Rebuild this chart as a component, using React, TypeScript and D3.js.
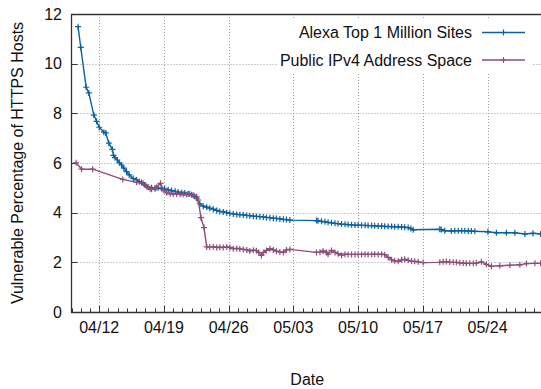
import React from "react";
import * as d3 from "d3";

// Series metadata
const seriesNames = ["Alexa Top 1 Million Sites", "Public IPv4 Address Space"];
const seriesColors = ["#0a60a0", "#8f4d7c"];

// Axis labels
const yTicks = [0, 2, 4, 6, 8, 10, 12];
const xTickLabels = ["04/12", "04/19", "04/26", "05/03", "05/10", "05/17", "05/24"];
const xLabel = "Date";
const yLabel = "Vulnerable Percentage of HTTPS Hosts";

// Scan times ("MM-DD HH", UTC, 2014) and vulnerable percentage
const alexa: [string, number][] = [
  ["04-09 17", 11.49], ["04-10 00", 10.66], ["04-10 14", 9.05], ["04-10 21", 8.82],
  ["04-11 10", 7.93], ["04-11 17", 7.68], ["04-12 00", 7.44], ["04-12 12", 7.24],
  ["04-12 17", 7.21], ["04-13 01", 6.8], ["04-13 10", 6.55], ["04-13 13", 6.31],
  ["04-13 17", 6.22], ["04-13 23", 6.12], ["04-14 04", 6.01], ["04-14 10", 5.92],
  ["04-14 16", 5.79], ["04-14 23", 5.65], ["04-15 06", 5.52], ["04-15 16", 5.38],
  ["04-16 01", 5.32], ["04-16 08", 5.25], ["04-16 14", 5.21], ["04-16 23", 5.11],
  ["04-17 07", 5.02], ["04-17 16", 5.0], ["04-18 01", 4.98], ["04-18 09", 5.0],
  ["04-18 18", 4.97], ["04-19 02", 4.96], ["04-19 11", 4.92], ["04-19 20", 4.89],
  ["04-20 05", 4.86], ["04-20 13", 4.83], ["04-20 22", 4.8], ["04-21 06", 4.79],
  ["04-21 15", 4.76], ["04-22 00", 4.72], ["04-22 08", 4.66], ["04-22 13", 4.58],
  ["04-22 21", 4.36], ["04-23 06", 4.26], ["04-23 15", 4.22], ["04-23 23", 4.18],
  ["04-24 08", 4.14], ["04-24 17", 4.09], ["04-25 01", 4.05], ["04-25 10", 4.03],
  ["04-25 19", 4.0], ["04-26 03", 3.97], ["04-26 12", 3.95], ["04-26 21", 3.93],
  ["04-27 05", 3.92], ["04-27 14", 3.91], ["04-27 23", 3.89], ["04-28 07", 3.88],
  ["04-28 16", 3.86], ["04-29 00", 3.85], ["04-29 09", 3.84], ["04-29 18", 3.83],
  ["04-30 02", 3.81], ["04-30 11", 3.8], ["04-30 20", 3.78], ["05-01 04", 3.77],
  ["05-01 13", 3.75], ["05-01 22", 3.73], ["05-02 06", 3.72], ["05-02 15", 3.7],
  ["05-05 12", 3.68], ["05-05 16", 3.67], ["05-06 01", 3.65], ["05-06 10", 3.63],
  ["05-06 18", 3.61], ["05-07 03", 3.59], ["05-07 12", 3.57], ["05-07 20", 3.56],
  ["05-08 05", 3.54], ["05-08 14", 3.53], ["05-08 22", 3.52], ["05-09 07", 3.51],
  ["05-09 16", 3.5], ["05-10 00", 3.5], ["05-10 09", 3.49], ["05-10 18", 3.49],
  ["05-11 02", 3.48], ["05-11 11", 3.48], ["05-11 19", 3.47], ["05-12 04", 3.46],
  ["05-12 13", 3.46], ["05-12 21", 3.45], ["05-13 06", 3.44], ["05-13 15", 3.44],
  ["05-13 23", 3.43], ["05-14 08", 3.43], ["05-14 17", 3.42], ["05-15 01", 3.41],
  ["05-15 10", 3.4], ["05-15 17", 3.36], ["05-15 23", 3.31],
  ["05-18 20", 3.33], ["05-19 00", 3.32], ["05-19 09", 3.27], ["05-20 02", 3.26],
  ["05-20 11", 3.27], ["05-20 20", 3.27], ["05-21 05", 3.27], ["05-21 13", 3.27],
  ["05-21 22", 3.26], ["05-22 06", 3.26], ["05-22 15", 3.25], ["05-24 01", 3.23],
  ["05-24 23", 3.19], ["05-26 01", 3.19], ["05-26 23", 3.19], ["05-28 01", 3.14],
  ["05-28 22", 3.17], ["05-29 18", 3.14],
];

const ipv4: [string, number][] = [
  ["04-09 12", 6.01], ["04-10 02", 5.75], ["04-11 07", 5.75], ["04-14 13", 5.34],
  ["04-16 01", 5.22], ["04-16 18", 5.18], ["04-17 03", 5.05], ["04-17 12", 4.96],
  ["04-17 16", 4.94], ["04-18 01", 4.96], ["04-18 05", 5.02], ["04-18 15", 5.18],
  ["04-18 22", 4.92], ["04-19 07", 4.8], ["04-19 16", 4.76], ["04-20 00", 4.75],
  ["04-20 09", 4.75], ["04-20 18", 4.74], ["04-21 02", 4.74], ["04-21 11", 4.73],
  ["04-21 19", 4.75], ["04-22 04", 4.7], ["04-22 13", 4.64], ["04-22 17", 4.51],
  ["04-23 00", 3.8], ["04-23 08", 3.4], ["04-23 15", 2.62], ["04-23 23", 2.62],
  ["04-24 08", 2.63], ["04-24 17", 2.6], ["04-25 01", 2.61], ["04-25 10", 2.6],
  ["04-25 19", 2.62], ["04-26 03", 2.6], ["04-26 12", 2.55], ["04-26 21", 2.56],
  ["04-27 05", 2.54], ["04-27 14", 2.52], ["04-27 23", 2.5], ["04-28 07", 2.46],
  ["04-28 16", 2.49], ["04-29 00", 2.47], ["04-29 06", 2.4], ["04-29 13", 2.28],
  ["04-29 19", 2.4], ["04-30 02", 2.48], ["04-30 11", 2.55], ["04-30 20", 2.5],
  ["05-01 04", 2.45], ["05-01 13", 2.42], ["05-01 22", 2.4], ["05-02 06", 2.5],
  ["05-02 15", 2.52],
  ["05-05 12", 2.4], ["05-05 21", 2.41], ["05-06 05", 2.46], ["05-06 14", 2.4],
  ["05-06 18", 2.33], ["05-07 03", 2.48], ["05-07 12", 2.4], ["05-07 20", 2.35],
  ["05-08 05", 2.29], ["05-08 14", 2.33], ["05-08 22", 2.32], ["05-09 07", 2.32],
  ["05-09 16", 2.32], ["05-10 00", 2.32], ["05-10 09", 2.32], ["05-10 18", 2.33],
  ["05-11 02", 2.32], ["05-11 11", 2.32], ["05-11 19", 2.33], ["05-12 04", 2.32],
  ["05-12 13", 2.33], ["05-12 21", 2.31], ["05-13 06", 2.2], ["05-13 15", 2.1],
  ["05-13 23", 2.06], ["05-14 08", 2.04], ["05-14 17", 2.1], ["05-15 01", 2.12],
  ["05-15 10", 2.08], ["05-15 19", 2.05], ["05-16 03", 2.04], ["05-16 12", 2.02],
  ["05-17 01", 1.99],
  ["05-18 20", 2.0], ["05-19 05", 2.02], ["05-19 13", 2.03], ["05-19 22", 2.01],
  ["05-20 07", 2.0], ["05-20 15", 2.0], ["05-21 00", 1.98], ["05-21 09", 1.97],
  ["05-21 17", 1.96], ["05-22 02", 1.96], ["05-22 11", 1.96], ["05-22 19", 1.97],
  ["05-23 08", 2.02], ["05-23 21", 1.92], ["05-24 10", 1.84], ["05-25 08", 1.86],
  ["05-26 10", 1.88], ["05-27 12", 1.9], ["05-28 05", 1.95], ["05-29 03", 1.96],
  ["05-29 18", 1.96],
];

const W = 541;
const H = 389;
const plot = { left: 71.5, top: 14, right: 543, bottom: 312 };
const FONT = "'Liberation Sans', Arial, Helvetica, sans-serif";
const FS = 16;

const parseTime = d3.utcParse("%Y-%m-%d %H");
const parseDay = d3.utcParse("%Y/%m/%d");

export default function App() {
  const start = parseDay("2014/04/09") as Date;
  const end = parseDay("2014/05/30") as Date;
  const x = d3.scaleUtc().domain([start, end]).range([plot.left, plot.right]);
  const y = d3.scaleLinear().domain([0, 12]).range([plot.bottom, plot.top]);

  const series = [alexa, ipv4].map((s) =>
    s.map(([t, v]) => ({ t: parseTime("2014-" + t) as Date, v }))
  );
  const line = d3
    .line<{ t: Date; v: number }>()
    .x((d) => x(d.t))
    .y((d) => y(d.v));

  const majorDates = xTickLabels.map((l) => parseDay("2014/" + l) as Date);
  const minorDates = d3.utcDay.range(start, end);

  const plus = (cx: number, cy: number, r = 3) =>
    `M${cx - r},${cy}H${cx + r}M${cx},${cy - r}V${cy + r}`;

  const legendX0 = 482;
  const legendX1 = 525;
  const legendY = [32.5, 60];

  return (
    <svg
      width={W}
      height={H}
      style={{ position: "absolute", left: 0, top: 0, background: "#fff" }}
      fontFamily={FONT}
      fontSize={FS}
    >
      <rect x={0} y={0} width={W} height={H} fill="#fff" />
      {/* grid */}
      <g stroke="#9a9a9a" strokeWidth={1} strokeDasharray="1,2" fill="none">
        {yTicks
          .filter((t) => t > 0 && t < 12)
          .map((t) => (
            <line key={"gy" + t} x1={plot.left} x2={plot.right} y1={Math.round(y(t)) + 0.5} y2={Math.round(y(t)) + 0.5} />
          ))}
        {majorDates.map((d, i) => (
          <line key={"gx" + i} x1={Math.round(x(d)) + 0.5} x2={Math.round(x(d)) + 0.5} y1={plot.top} y2={plot.bottom} />
        ))}
      </g>
      {/* day ticks on the x axis, value ticks on the y axis */}
      <g stroke="#333" strokeWidth={1}>
        {minorDates.map((d, i) => (
          <line key={"mx" + i} x1={Math.round(x(d)) + 0.5} x2={Math.round(x(d)) + 0.5} y1={plot.bottom} y2={plot.bottom - 3.5} />
        ))}
        {majorDates.map((d, i) => (
          <line key={"Mx" + i} x1={Math.round(x(d)) + 0.5} x2={Math.round(x(d)) + 0.5} y1={plot.bottom} y2={plot.bottom - 6} />
        ))}
        {yTicks.map((t) => (
          <line key={"ty" + t} x1={plot.left} x2={plot.left + 6} y1={Math.round(y(t)) + 0.5} y2={Math.round(y(t)) + 0.5} />
        ))}
      </g>
      {/* series */}
      {series.map((s, i) => (
        <g key={"s" + i}>
          <path d={line(s) || ""} fill="none" stroke={seriesColors[i]} strokeWidth={1.4} />
          <path
            d={s.map((d) => plus(x(d.t), y(d.v))).join("")}
            fill="none"
            stroke={seriesColors[i]}
            strokeWidth={1.2}
          />
        </g>
      ))}
      {/* legend */}
      <rect x={278} y={19} width={255} height={53} fill="#fff" />
      {seriesNames.map((n, i) => (
        <g key={"l" + i}>
          <text x={472} y={legendY[i] + 5.5} textAnchor="end" fill="#111">
            {n}
          </text>
          <line x1={legendX0} x2={legendX1} y1={legendY[i]} y2={legendY[i]} stroke={seriesColors[i]} strokeWidth={1.4} />
          <path d={plus((legendX0 + legendX1) / 2, legendY[i])} stroke={seriesColors[i]} strokeWidth={1.2} />
        </g>
      ))}
      {/* frame */}
      <path
        d={`M${plot.right},${plot.top + 0.5}H${plot.left}V${plot.bottom + 0.5}H${plot.right}`}
        fill="none"
        stroke="#333"
        strokeWidth={1.3}
      />
      {/* tick labels */}
      <g fill="#111">
        {yTicks.map((t) => (
          <text key={"yl" + t} x={62} y={y(t) + 5.7} textAnchor="end">
            {t}
          </text>
        ))}
        {majorDates.map((d, i) => (
          <text key={"xl" + i} x={x(d)} y={333} textAnchor="middle">
            {xTickLabels[i]}
          </text>
        ))}
      </g>
      <text x={(plot.left + plot.right) / 2} y={385} textAnchor="middle" fill="#111">
        {xLabel}
      </text>
      <text
        transform={`translate(23,${(plot.top + plot.bottom) / 2}) rotate(-90)`}
        textAnchor="middle"
        fill="#111"
      >
        {yLabel}
      </text>
    </svg>
  );
}
